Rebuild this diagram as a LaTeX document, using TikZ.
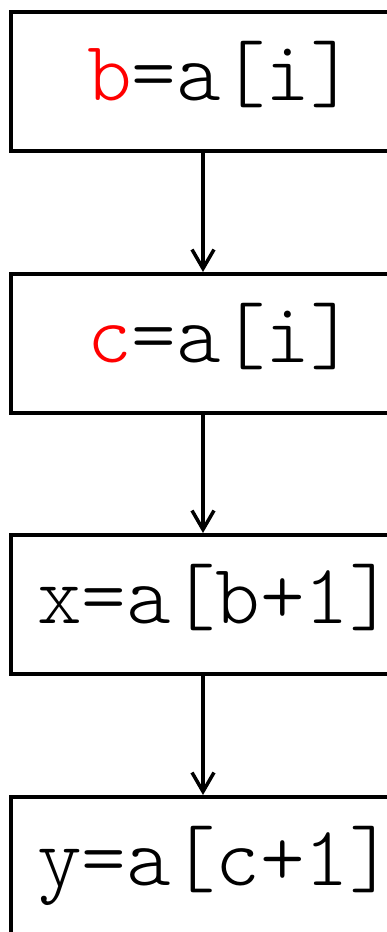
\documentclass[tikz,border=0pt]{standalone}
\usepackage{fontspec}
\newfontfamily\codefont{Latin Modern Mono Light}
\usetikzlibrary{arrows.meta}
\definecolor{vred}{RGB}{255,0,0}
\begin{document}
\begin{tikzpicture}[x=1pt,y=1pt,
  codebox/.style={draw=black, line width=4pt, minimum width=384pt, minimum height=139pt, inner sep=0pt, anchor=north},
  codetext/.style={font=\fontsize{85}{90}\codefont, inner sep=0pt, anchor=base west},
  flow/.style={line width=3.5pt, -{Straight Barb[length=19pt,width=22pt,line width=3.5pt]}}]
\useasboundingbox (0,0) rectangle (387,-932);
\node[codebox] (b1) at (203,-10) {};
\node[codebox] (b2) at (203,-272) {};
\node[codebox] (b3) at (203,-533) {};
\node[codebox] (b4) at (203,-795) {};
\node[codetext] (t1) at ([shift={(-116,-90)}]b1.north) {\textcolor{vred}{b}=a[i]};
\node[codetext] (t2) at ([shift={(-116,-90)}]b2.north) {\textcolor{vred}{c}=a[i]};
\node[codetext] (t3) at ([shift={(-166,-90)}]b3.north) {x=a[b+1]};
\node[codetext] (t4) at ([shift={(-166,-90)}]b4.north) {y=a[c+1]};
\draw[flow] (b1.south) -- (b2.north);
\draw[flow] (b2.south) -- (b3.north);
\draw[flow] (b3.south) -- (b4.north);
\end{tikzpicture}
\end{document}
